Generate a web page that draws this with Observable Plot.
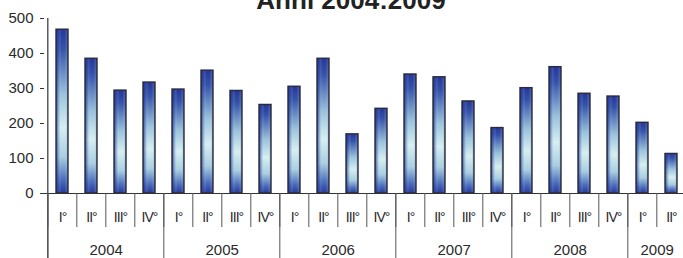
<!DOCTYPE html>
<html>
<head>
<meta charset="utf-8">
<script src="https://cdn.jsdelivr.net/npm/d3@7"></script>
<script src="https://cdn.jsdelivr.net/npm/@observablehq/plot@0.6"></script>
<style>
  html, body { margin: 0; padding: 0; background: #fff; }
  svg { display: block; overflow: visible; }
</style>
</head>
<body>
<div id="chart"></div>
<script>
const title = "Anni 2004:2009";
const years = [2004, 2005, 2006, 2007, 2008, 2009];
const quarters = ["I°", "II°", "III°", "IV°"];
const quartersPerYear = [4, 4, 4, 4, 4, 2];
const values = [468, 385, 294, 317, 297, 351, 293, 253, 305, 385, 169, 242, 340, 332, 263, 187, 301, 361, 285, 277, 202, 113];
const yTicks = [0, 100, 200, 300, 400, 500];

const data = [];
years.forEach((yr, yi) => {
  for (let q = 0; q < quartersPerYear[yi]; q++) {
    data.push({year: yr, quarter: quarters[q], key: yr + "-" + quarters[q], value: values[data.length]});
  }
});
const keys = data.map(d => d.key);

const W = 683, H = 258;
const mL = 44, mT = 18, mB = 65;
const xRange = [mL, 690];
const step = (xRange[1] - xRange[0]) / keys.length;
const frameH = H - mT - mB;

const firstOfYear = data.filter(d => d.quarter === "I°");
const midOfYear = years.map((yr, yi) => {
  const n = quartersPerYear[yi];
  const items = data.filter(d => d.year === yr);
  return {year: yr, key: items[n / 2 - 1].key};
});

const font = "Liberation Sans, Arial, sans-serif";

const plot = Plot.plot({
  width: W,
  height: H,
  marginLeft: mL,
  marginRight: 0,
  marginTop: mT,
  marginBottom: mB,
  style: {fontFamily: font, background: "#fff", color: "#222", overflow: "visible"},
  x: {type: "band", domain: keys, range: xRange, paddingInner: 0.58, paddingOuter: 0.29, axis: null, label: null},
  y: {domain: [0, 500], axis: null, label: null},
  marks: [
    Plot.barY(data, {x: "key", y: "value", fill: "url(#gradV)"}),
    Plot.barY(data, {x: "key", y: "value", fill: "url(#gradH)", stroke: "#2a2a3a", strokeWidth: 1.4}),
    Plot.axisY(yTicks, {tickSize: 4, tickPadding: 7, fontSize: 15, stroke: "#333", fill: "#2a2a2a", label: null}),
    Plot.ruleY([0], {stroke: "#333", strokeWidth: 1.2}),
    // y axis line + 2004 separator
    Plot.ruleX([keys[0]], {x: d => d, dx: -step / 2, insetBottom: -mB, stroke: "#333", strokeWidth: 1.2}),
    // quarter separators
    Plot.ruleX(keys, {x: d => d, dx: -step / 2, insetTop: frameH, insetBottom: -34, stroke: "#555", strokeWidth: 1}),
    // year separators
    Plot.ruleX(firstOfYear, {x: "key", dx: -step / 2, insetTop: frameH, insetBottom: -mB, stroke: "#555", strokeWidth: 1}),
    // quarter labels
    Plot.text(data, {x: "key", text: "quarter", frameAnchor: "bottom", dy: 24, fontSize: 14, fill: "#2a2a2a", lineAnchor: "middle"}),
    // year labels
    Plot.text(midOfYear, {x: "key", text: d => String(d.year), frameAnchor: "bottom", dx: step / 2, dy: 57, fontSize: 15, fill: "#2a2a2a", lineAnchor: "middle"}),
    // title
    Plot.text([title], {frameAnchor: "top", dx: -13, dy: -10, text: d => d, fontSize: 26, fontWeight: "bold", fill: "#222", lineAnchor: "bottom"})
  ]
});

const defs = d3.select(plot).insert("defs", ":first-child");
const gv = defs.append("linearGradient").attr("id", "gradV").attr("x1", 0).attr("y1", 0).attr("x2", 0).attr("y2", 1);
[[0, "#26379a"], [0.12, "#3553aa"], [0.4, "#9cc4dc"], [0.6, "#d6eff0"], [0.78, "#a9cfe0"], [0.92, "#4a6cba"], [1, "#28399c"]]
  .forEach(([o, c]) => gv.append("stop").attr("offset", o).attr("stop-color", c));
const gh = defs.append("linearGradient").attr("id", "gradH").attr("x1", 0).attr("y1", 0).attr("x2", 1).attr("y2", 0);
[[0, "#1f2f8c", 0.85], [0.2, "#3050a8", 0.35], [0.45, "#ffffff", 0], [0.75, "#ffffff", 0], [1, "#3050a8", 0.45]]
  .forEach(([o, c, a]) => gh.append("stop").attr("offset", o).attr("stop-color", c).attr("stop-opacity", a));

d3.select(plot).selectAll("text").filter(function() { return quarters.includes(this.textContent); })
  .attr("letter-spacing", "-1");

document.getElementById("chart").appendChild(plot);
</script>
</body>
</html>
